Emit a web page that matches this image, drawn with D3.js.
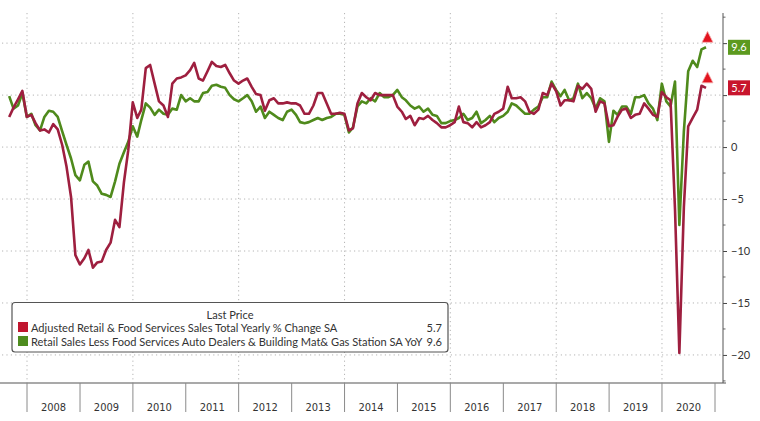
<!DOCTYPE html>
<html><head><meta charset="utf-8">
<script src="https://cdn.jsdelivr.net/npm/d3@7"></script>
<style>body{margin:0;background:#fff}svg{display:block}</style>
</head><body>
<svg id="chart" width="760" height="421"></svg>
<script>
// ---- data (monthly, Aug 2007 .. Oct 2020) ----
const firstMonth = [2007, 7]; // Aug 2007 (0-based month)
const retailTotal = [
  2.9, 3.8, 4.6, 5.4, 2.9,
  3.1, 2.3, 1.6, 1.7, 1.4, 2.2, 1.7, 0.2, -1.9, -4.8, -10.4, -11.3,
  -10.7, -9.9, -11.6, -11.1, -11.0, -9.9, -9.2, -7.0, -7.7, -3.4, -0.3, 4.3,
  2.8, 3.6, 7.6, 7.9, 6.1, 4.4, 4.0, 2.9, 6.1, 6.6, 6.7, 6.9,
  7.4, 8.1, 6.6, 6.4, 7.3, 8.2, 7.8, 7.7, 7.9, 7.1, 6.4, 6.1,
  6.4, 6.6, 5.8, 5.1, 5.0, 3.5, 4.5, 4.7, 4.2, 4.2, 4.3, 4.2,
  4.2, 4.0, 3.2, 3.2, 4.0, 5.2, 5.2, 4.2, 3.2, 3.2, 3.3, 3.2,
  1.6, 1.8, 4.2, 5.2, 4.8, 4.5, 5.2, 5.0, 5.0, 5.0, 5.0, 3.9,
  3.4, 2.7, 3.0, 2.1, 2.8, 2.7, 3.0, 2.6, 2.3, 1.9, 1.9, 2.1,
  2.4, 3.9, 2.4, 2.3, 1.9, 2.4, 1.9, 2.1, 2.4, 3.2, 3.4, 3.7,
  5.8, 4.7, 4.7, 4.8, 4.4, 3.4, 3.2, 3.6, 5.2, 5.0, 6.1, 5.4,
  4.0, 4.5, 4.5, 4.4, 5.9, 5.6, 6.1, 5.6, 3.4, 4.4, 4.2, 2.0,
  2.1, 2.9, 3.6, 3.7, 2.8, 3.1, 3.2, 4.2, 3.7, 3.1, 2.9, 5.3,
  4.8, 4.5, -6.0, -19.8, -5.8, 2.0, 2.8, 3.6, 5.9, 5.7
];
const retailControl = [
  4.9, 3.7, 4.0, 5.2, 2.9,
  3.2, 2.1, 1.6, 2.9, 3.5, 3.4, 2.9, 1.5, 0.2, -1.1, -2.7, -3.2,
  -1.7, -1.4, -3.3, -3.7, -4.5, -4.6, -4.8, -3.3, -1.6, -0.5, 0.5, 2.0,
  1.0, 2.6, 4.2, 3.8, 3.1, 3.6, 3.2, 3.1, 3.7, 3.6, 5.0, 4.4,
  4.7, 4.4, 4.4, 5.2, 5.3, 5.9, 6.0, 5.8, 5.7, 5.0, 4.6, 4.4,
  4.7, 5.0, 4.4, 3.4, 3.9, 2.8, 3.4, 3.1, 2.8, 2.6, 3.4, 3.6,
  3.1, 2.4, 2.3, 2.4, 2.6, 2.8, 2.6, 2.8, 2.9, 3.2, 3.2, 3.1,
  1.4, 1.9, 3.9, 4.4, 4.2, 4.7, 4.4, 5.2, 4.8, 4.8, 5.0, 5.5,
  4.8, 4.5, 4.0, 3.7, 3.9, 3.4, 3.7, 3.1, 3.0, 2.3, 2.3, 2.5,
  2.6, 2.8, 3.2, 2.6, 2.8, 3.4, 2.3, 2.6, 3.0, 2.4, 2.8, 3.0,
  3.4, 4.2, 4.0, 3.6, 3.2, 3.2, 3.6, 3.9, 4.8, 4.8, 6.3, 5.5,
  4.9, 5.5, 4.5, 4.7, 6.1, 4.7, 5.2, 4.7, 3.7, 4.7, 4.4, 0.5,
  3.5, 3.1, 3.9, 3.9, 3.2, 4.8, 4.8, 5.0, 4.2, 3.7, 2.6, 6.1,
  4.4, 3.9, 6.3, -7.5, 1.5, 7.3, 8.3, 7.7, 9.4, 9.6
];
const yearLabels = ["2008","2009","2010","2011","2012","2013","2014","2015","2016","2017","2018","2019","2020"];
const yTickValues = [-20, -15, -10, -5, 0, 5, 10];
const yTickLabelsShown = [-20, -15, -10, -5, 0]; // 5 and 10 sit under the last-value boxes
const seriesNames = [
  "Adjusted Retail & Food Services Sales Total Yearly % Change SA",
  "Retail Sales Less Food Services Auto Dealers & Building Mat& Gas Station SA YoY"
];
const lastValues = ["5.7", "9.6"];
const legendTitle = "Last Price";
const seriesColors = ["#9e1f3f", "#4f8a1c"];
const swatchColors = ["#c0162f", "#4e8c1f"];
const boxColors = ["#c8152d", "#5c9a1f"];

// month-end dates
const dates = retailTotal.map((_, i) => new Date(firstMonth[0], firstMonth[1] + i + 1, 0));

const svg = d3.select("#chart");
const W = 760, H = 421;
const plotL = 2, plotR = 723, plotT = 13, plotB = 383;

const x = d3.scaleTime()
  .domain([new Date(2008, 0, 1), new Date(2021, 0, 1)])
  .range([27, 715]);
const y = d3.scaleLinear().domain([-22.7, 12.9]).range([plotB, plotT]);

svg.append("rect").attr("width", W).attr("height", H).attr("fill", "#fff");

// horizontal dotted grid
svg.append("g").selectAll("line").data(yTickValues).join("line")
  .attr("x1", plotL).attr("x2", plotR)
  .attr("y1", d => y(d)).attr("y2", d => y(d))
  .attr("stroke", "#b4b4b4").attr("stroke-width", 1).attr("stroke-dasharray", "1.2,3.2");

// vertical dotted grid every 2 years
const gridYears = d3.range(2008, 2021, 2).map(yr => new Date(yr, 0, 1));
svg.append("g").selectAll("line").data(gridYears).join("line")
  .attr("x1", d => x(d)).attr("x2", d => x(d))
  .attr("y1", plotT).attr("y2", plotB)
  .attr("stroke", "#b4b4b4").attr("stroke-width", 1).attr("stroke-dasharray", "1.2,3.2");

// lines
const lineGen = vals => d3.line()
  .x((d, i) => x(dates[i]))
  .y(d => y(d))(vals);
[retailControl, retailTotal].forEach((vals, k) => {
  const col = k === 0 ? seriesColors[1] : seriesColors[0];
  svg.append("path").attr("d", lineGen(vals)).attr("fill", "none")
    .attr("stroke", col).attr("stroke-width", 2.6).attr("stroke-linejoin", "round");
});

// right axis
const yAxis = d3.axisRight(y).tickValues(yTickValues).tickSize(4).tickPadding(4)
  .tickFormat(d => yTickLabelsShown.includes(d) ? d3.format("d")(d) : "");
const gy = svg.append("g").attr("transform", `translate(${plotR},0)`).call(yAxis);
gy.select(".domain").remove();
gy.selectAll(".tick line").attr("stroke", "#444");
gy.selectAll(".tick text").filter(function () { return this.textContent === ""; }).remove();
gy.selectAll(".tick text").attr("font-family", "Lato, 'Open Sans', sans-serif").attr("font-size", 11).attr("fill", "#333");
// minor ticks
const minorTicks = d3.range(-22.5, 12.6, 2.5).filter(v => v % 5 !== 0);
svg.append("g").selectAll("line").data(minorTicks).join("line")
  .attr("x1", plotR).attr("x2", plotR + 2.5)
  .attr("y1", d => y(d)).attr("y2", d => y(d)).attr("stroke", "#666");
svg.append("line").attr("x1", plotR).attr("x2", plotR).attr("y1", plotT).attr("y2", plotB)
  .attr("stroke", "#555").attr("stroke-width", 1);

// bottom axis
svg.append("line").attr("x1", 0).attr("x2", plotR + 3).attr("y1", plotB).attr("y2", plotB)
  .attr("stroke", "#555").attr("stroke-width", 1.2);
const yearBounds = d3.range(2008, 2022).map(yr => new Date(yr, 0, 1));
svg.append("g").selectAll("line").data(yearBounds).join("line")
  .attr("x1", d => x(d)).attr("x2", d => x(d))
  .attr("y1", plotB).attr("y2", 412)
  .attr("stroke", "#8a8a8a").attr("stroke-width", 1);
svg.append("g").selectAll("text").data(yearLabels).join("text")
  .attr("x", d => (x(new Date(+d, 0, 1)) + x(new Date(+d + 1, 0, 1))) / 2)
  .attr("y", 411)
  .attr("text-anchor", "middle")
  .attr("font-family", "'Liberation Sans Narrow', 'DejaVu Sans Condensed', sans-serif")
  .attr("font-size", 11).attr("fill", "#333")
  .text(d => d);

// last-value markers and boxes
const lastIdx = retailTotal.length - 1;
const ends = [
  {v: retailTotal[lastIdx], label: lastValues[0], color: boxColors[0]},
  {v: retailControl[lastIdx], label: lastValues[1], color: boxColors[1]}
];
ends.forEach(e => {
  const cx = x(dates[lastIdx]) + 1.5, cy = y(e.v) - 5;
  svg.append("path")
    .attr("d", `M${cx - 5.5},${cy} L${cx + 5.5},${cy} L${cx},${cy - 11} Z`)
    .attr("fill", "#e3141f").attr("stroke", "#f4b0b0").attr("stroke-width", 0.8);
  svg.append("rect").attr("x", 728).attr("y", y(e.v) - 7.5).attr("width", 22).attr("height", 15)
    .attr("fill", e.color);
  svg.append("text").attr("x", 739).attr("y", y(e.v) + 3.8).attr("text-anchor", "middle")
    .attr("font-family", "Lato, 'Open Sans', sans-serif").attr("font-size", 11).attr("fill", "#fff")
    .text(e.label);
});

// legend
const lg = svg.append("g");
lg.append("rect").attr("x", 12).attr("y", 302.5).attr("width", 436).attr("height", 49.5)
  .attr("rx", 3).attr("fill", "#fff").attr("stroke", "#555").attr("stroke-width", 1.2);
const legFont = "Lato, 'Open Sans', sans-serif";
const title = lg.append("text").attr("x", 230).attr("y", 318.5).attr("text-anchor", "middle")
  .attr("font-family", legFont).attr("font-size", 11).attr("fill", "#333").text(legendTitle);
const rowBase = [331.5, 345.5];
const rows = [0, 1].map(i => {
  const ry = rowBase[i];
  lg.append("rect").attr("x", 18).attr("y", ry - 9.5).attr("width", 10).attr("height", 10)
    .attr("fill", swatchColors[i]);
  const t = lg.append("text").attr("x", 31).attr("y", ry)
    .attr("font-family", legFont).attr("font-size", 11).attr("fill", "#333").text(seriesNames[i]);
  lg.append("text").attr("x", 442).attr("y", ry).attr("text-anchor", "end")
    .attr("font-family", legFont).attr("font-size", 11).attr("fill", "#333").text(lastValues[i]);
  return t;
});
// fit legend font to reference width of the longest row
const w2 = rows[1].node().getComputedTextLength();
const fs = Math.min(11.5, 11 * 392 / w2);
lg.selectAll("text").attr("font-size", fs);
</script>
</body></html>
